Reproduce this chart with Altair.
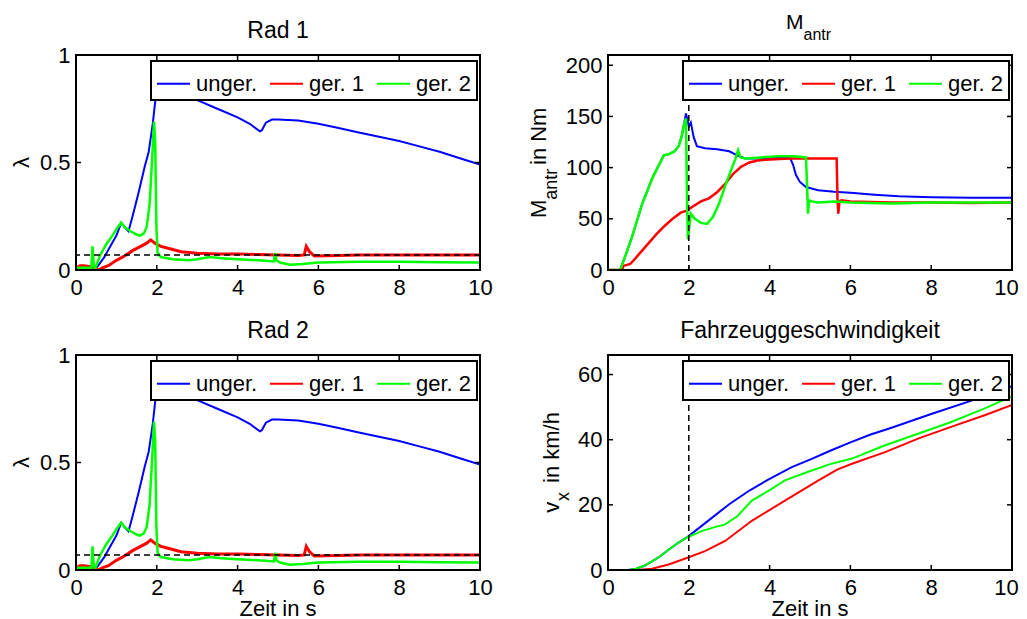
import altair as alt
import pandas as pd

# ---------------- data ----------------
SERIES = ["unger.", "ger. 1", "ger. 2"]
COLORS = ["#0000ff", "#ff0000", "#00ff00"]

# Rad 1 / Rad 2 : slip lambda over time
rad_t_unger = [0.0, 0.45, 0.55, 0.7, 0.85, 1.0, 1.12, 1.2, 1.3, 1.4, 1.55, 1.7, 1.8, 1.9, 1.97, 2.05, 2.3, 2.6,
               3.0, 3.5, 4.0, 4.3, 4.55, 4.6, 4.7, 4.85, 5.0, 5.5, 6.0, 6.5, 7.0, 7.5, 8.0, 8.5, 9.0, 9.5, 10.0]
rad_l_unger = [0.0, 0.0, 0.02, 0.06, 0.11, 0.16, 0.22, 0.2, 0.18, 0.25, 0.36, 0.48, 0.55, 0.68, 0.8, 0.835, 0.83, 0.815,
               0.79, 0.75, 0.71, 0.68, 0.645, 0.65, 0.685, 0.70, 0.70, 0.695, 0.68, 0.66, 0.64, 0.62, 0.60, 0.575, 0.55, 0.52, 0.49]
rad_t_ger1 = [0.0, 0.1, 0.2, 0.35, 0.45, 0.55, 0.65, 0.8, 1.0, 1.2, 1.4, 1.6, 1.75, 1.85, 1.95, 2.1, 2.3, 2.6, 3.0,
              3.5, 4.0, 4.5, 5.0, 5.5, 5.65, 5.7, 5.78, 5.9, 6.5, 7.0, 8.0, 9.0, 10.0]
rad_l_ger1 = [0.01, 0.02, 0.02, 0.015, 0.005, 0.0, 0.01, 0.02, 0.045, 0.065, 0.09, 0.11, 0.125, 0.14, 0.125, 0.11, 0.1,
              0.085, 0.078, 0.075, 0.075, 0.072, 0.07, 0.068, 0.07, 0.11, 0.085, 0.065, 0.068, 0.07, 0.07, 0.07, 0.07]
rad_t_ger2 = [0.0, 0.38, 0.41, 0.44, 0.47, 0.52, 0.6, 0.75, 0.9, 1.0, 1.12, 1.2, 1.35, 1.5, 1.58, 1.68, 1.75, 1.82,
              1.88, 1.93, 1.96, 1.99, 2.02, 2.1, 2.4, 2.8, 3.0, 3.3, 3.6, 4.0, 4.5, 4.9, 4.93, 4.96, 5.05, 5.3, 5.6,
              6.0, 7.0, 8.0, 9.0, 10.0]
rad_l_ger2 = [0.01, 0.01, 0.11, 0.02, 0.005, 0.03, 0.07, 0.12, 0.16, 0.19, 0.22, 0.20, 0.18, 0.165, 0.16, 0.17, 0.2,
              0.3, 0.5, 0.69, 0.6, 0.2, 0.08, 0.06, 0.05, 0.045, 0.05, 0.06, 0.055, 0.05, 0.045, 0.04, 0.08, 0.045,
              0.035, 0.025, 0.028, 0.035, 0.038, 0.038, 0.036, 0.035]
rad_ref = [0.07]

# M_antr : drive torque in Nm
m_t_unger = [0.0, 0.3, 0.45, 0.6, 0.85, 1.1, 1.38, 1.5, 1.65, 1.75, 1.82, 1.88, 1.93, 1.97, 2.0, 2.05, 2.12, 2.2,
             2.4, 2.7, 3.0, 3.2, 3.4, 3.8, 4.2, 4.5, 4.58, 4.65, 4.75, 4.9, 5.2, 5.6, 6.0, 6.6, 7.2, 8.0, 9.0, 10.0]
m_v_unger = [0, 0, 16, 33, 65, 90, 112, 113, 116, 121, 130, 142, 153, 146, 140, 144, 130, 121,
             119, 118, 116, 112, 109, 109, 110, 110, 103, 93, 86, 81, 78, 76.5, 75.5, 73.5, 72, 71, 70.5, 70.5]
m_t_ger1 = [0.0, 0.35, 0.38, 0.55, 0.65, 0.8, 1.0, 1.2, 1.4, 1.6, 1.8, 1.95, 2.1, 2.3, 2.5, 2.7, 2.9, 3.1, 3.3,
            3.5, 3.7, 4.0, 4.5, 5.0, 5.5, 5.66, 5.68, 5.7, 5.73, 5.78, 6.0, 7.0, 8.0, 9.0, 10.0]
m_v_ger1 = [0, 0, 4, 6, 10, 17, 26, 35, 43, 50, 56, 58, 62, 67, 70, 76, 84, 94, 101,
            105, 107, 108, 109, 109, 109, 109, 70, 55, 67, 68, 67, 66, 66, 65.5, 66]
m_t_ger2 = [0.0, 0.3, 0.45, 0.6, 0.85, 1.1, 1.38, 1.5, 1.65, 1.75, 1.82, 1.88, 1.93, 1.96, 1.98, 2.0, 2.05, 2.15,
            2.3, 2.45, 2.6, 2.75, 2.9, 3.05, 3.15, 3.22, 3.28, 3.4, 3.8, 4.2, 4.6, 4.9, 4.93, 4.95, 4.98, 5.05, 5.2,
            5.6, 6.0, 7.0, 8.0, 9.0, 10.0]
m_v_ger2 = [0, 0, 16, 33, 65, 90, 112, 113, 116, 121, 130, 142, 148, 60, 30, 38, 55, 50,
            46, 45, 52, 65, 82, 98, 108, 117, 110, 109, 110, 111, 111, 110, 80, 55, 68, 67, 66,
            67, 66, 65, 66, 66, 66]
m_marker = [2.0]

# v_x : vehicle speed in km/h
v_t_unger = [0.0, 0.5, 0.7, 0.9, 1.1, 1.3, 1.5, 1.7, 1.95, 2.2, 2.5, 3.0, 3.5, 4.0, 4.55, 5.0, 5.5, 6.0, 6.5,
             7.0, 8.0, 9.0, 10.0]
v_v_unger = [0, 0, 0.4, 1.3, 2.7, 4.3, 6.2, 8.0, 10.0, 12.4, 15.3, 20.2, 24.4, 28.0, 31.6, 33.9, 36.6, 39.2, 41.6,
             43.6, 47.9, 52.0, 56.4]
v_t_ger1 = [0.0, 0.7, 1.09, 1.5, 1.95, 2.4, 2.9, 3.56, 4.38, 5.21, 5.67, 6.04, 6.86, 7.69, 8.51, 9.34, 10.0]
v_v_ger1 = [0, 0, 0.4, 1.7, 3.7, 5.8, 8.9, 15.1, 21.3, 27.5, 30.8, 32.6, 36.2, 40.4, 44.0, 47.6, 50.7]
v_t_ger2 = [0.0, 0.5, 0.7, 0.9, 1.1, 1.3, 1.5, 1.7, 1.95, 2.0, 2.33, 2.6, 2.9, 3.2, 3.56, 4.0, 4.38, 4.92, 5.5,
            6.04, 6.86, 7.69, 8.51, 9.34, 10.0]
v_v_ger2 = [0, 0, 0.4, 1.3, 2.7, 4.3, 6.2, 8.0, 10.0, 10.2, 12.0, 13.0, 14.0, 16.5, 21.3, 24.5, 27.5, 30.0, 32.5,
            34.2, 38.3, 41.9, 45.5, 49.7, 53.3]
v_marker = [2.0]

x_ticks = [0, 2, 4, 6, 8, 10]

# ---------------- styling ----------------
W, H = 404, 215
FONT = "Liberation Sans"
FS = 22
TFS = 23
SUB = 18


def long_df(pairs):
    rows = []
    for name, ts, vs in pairs:
        for i, (a, b) in enumerate(zip(ts, vs)):
            rows.append({"t": a, "v": b, "s": name, "i": i})
    return pd.DataFrame(rows)


def txt(s, x, y, size=FS, align="center", angle=0):
    return alt.Chart(pd.DataFrame({"s": [s]})).mark_text(
        align=align, baseline="alphabetic", angle=angle, fontSize=size, font=FONT, color="black"
    ).encode(text="s:N", x=alt.value(x), y=alt.value(y))


def panel(df, ydom, yticks, texts, widths, href=None, vref=None, right=False):
    xs = alt.Scale(domain=[0, 10], nice=False, zero=False)
    ys = alt.Scale(domain=ydom, nice=False, zero=False)
    xkw = dict(values=x_ticks, labelExpr="'' + datum.value", title=None, labelFontSize=FS, labelFont=FONT,
               labelColor="black", tickSize=0, domain=False, grid=False, labelPadding=7, labelFlush=False)
    if right:
        xkw["labelOffset"] = {"condition": {"test": "datum.value == 10", "value": -6}, "value": 0}
    xaxis = alt.Axis(**xkw)
    yaxis = alt.Axis(values=yticks, labelExpr="'' + datum.value", title=None, labelFontSize=FS, labelFont=FONT,
                     labelColor="black", tickSize=0, domain=False, grid=False, labelPadding=6, labelFlush=False)

    def X(f):
        return alt.X(f, type="quantitative", scale=xs, axis=xaxis)

    def Y(f):
        return alt.Y(f, type="quantitative", scale=ys, axis=yaxis)

    color = alt.Color("s:N", scale=alt.Scale(domain=SERIES, range=COLORS),
                      legend=alt.Legend(title=None, orient="none", legendX=75, legendY=6,
                                        direction="horizontal", symbolType="stroke", symbolSize=1089,
                                        symbolStrokeWidth=2, labelFontSize=FS, labelFont=FONT,
                                        labelColor="black", labelLimit=0, labelOffset=5,
                                        columnPadding=8, padding=5, fillColor="white",
                                        strokeColor="black"))
    base = alt.Chart(df)
    layers = []
    for name, sw in zip(SERIES, widths):
        layers.append(
            base.transform_filter(alt.datum.s == name)
            .mark_line(strokeWidth=sw, clip=True)
            .encode(x=X("t"), y=Y("v"), color=color, order="i:Q")
        )
    if href is not None:
        layers.append(alt.Chart(pd.DataFrame({"v": href})).mark_rule(
            color="black", strokeWidth=1.5, strokeDash=[6, 4]).encode(y=Y("v")))
    if vref is not None:
        layers.append(alt.Chart(pd.DataFrame({"v": vref})).mark_rule(
            color="black", strokeWidth=1.5, strokeDash=[6, 4]).encode(x=X("v")))
    xt = pd.DataFrame({"v": x_ticks[1:-1]})
    yt = pd.DataFrame({"v": [v for v in yticks if ydom[0] < v < ydom[1]]})
    layers.append(alt.Chart(xt).mark_rule(color="black", strokeWidth=1.5).encode(
        x=X("v"), y=alt.value(H), y2=alt.value(H - 5)))
    layers.append(alt.Chart(xt).mark_rule(color="black", strokeWidth=1.5).encode(
        x=X("v"), y=alt.value(0), y2=alt.value(5)))
    layers.append(alt.Chart(yt).mark_rule(color="black", strokeWidth=1.5).encode(
        y=Y("v"), x=alt.value(0), x2=alt.value(5)))
    layers.append(alt.Chart(yt).mark_rule(color="black", strokeWidth=1.5).encode(
        y=Y("v"), x=alt.value(W - 5), x2=alt.value(W)))
    layers.append(alt.Chart(pd.DataFrame({"k": [0]})).mark_rect(
        fillOpacity=0, stroke="black", strokeWidth=2).encode(
        x=alt.value(0), x2=alt.value(W), y=alt.value(0), y2=alt.value(H)))
    layers.extend(texts)
    return alt.layer(*layers).properties(width=W, height=H)


rad_df = long_df([("unger.", rad_t_unger, rad_l_unger), ("ger. 1", rad_t_ger1, rad_l_ger1),
                  ("ger. 2", rad_t_ger2, rad_l_ger2)])
m_df = long_df([("unger.", m_t_unger, m_v_unger), ("ger. 1", m_t_ger1, m_v_ger1),
                ("ger. 2", m_t_ger2, m_v_ger2)])
v_df = long_df([("unger.", v_t_unger, v_v_unger), ("ger. 1", v_t_ger1, v_v_ger1),
                ("ger. 2", v_t_ger2, v_v_ger2)])

p1 = panel(rad_df, [0, 1], [0, 0.5, 1],
           [txt("Rad 1", W / 2, -17, size=TFS), txt("λ", -47, H / 2, angle=270)], [2, 3, 2.5], href=rad_ref)
p2 = panel(m_df, [0, 210], [0, 50, 100, 150, 200],
           [txt("M", 178, -26.3, size=21, align="left"), txt("antr", 195.5, -15, size=16, align="left"),
            txt("M", -62.5, 163, align="left", angle=270),
            txt("antr", -51, 144.7, size=SUB, align="left", angle=270),
            txt("in Nm", -62.5, 110, align="left", angle=270)],
           [2, 2.5, 2.5], vref=m_marker, right=True)
p3 = panel(rad_df, [0, 1], [0, 0.5, 1],
           [txt("Rad 2", W / 2, -17, size=TFS), txt("λ", -47, H / 2, angle=270),
            txt("Zeit in s", W / 2, H + 46)], [2, 3, 2.5], href=rad_ref)
p4 = panel(v_df, [0, 66], [0, 20, 40, 60],
           [txt("Fahrzeuggeschwindigkeit", W / 2, -17, size=TFS),
            txt("v", -49.3, 157.7, align="left", angle=270),
            txt("x", -39.3, 146, size=SUB, align="left", angle=270),
            txt("in km/h", -49.3, 128, align="left", angle=270),
            txt("Zeit in s", W / 2, H + 46)],
           [2, 2, 2], vref=v_marker, right=True)

chart = alt.concat(p1, p2, p3, p4, columns=2, spacing={"row": 85, "column": 128}, bounds="flush") \
    .resolve_legend(color="independent") \
    .properties(padding={"left": 2, "top": 3, "right": 0, "bottom": 0}) \
    .configure(font=FONT) \
    .configure_view(stroke="transparent") \
    .configure_legend(strokeWidth=2)

chart.save("out.html", embed_options={"renderer": "svg", "actions": False})
